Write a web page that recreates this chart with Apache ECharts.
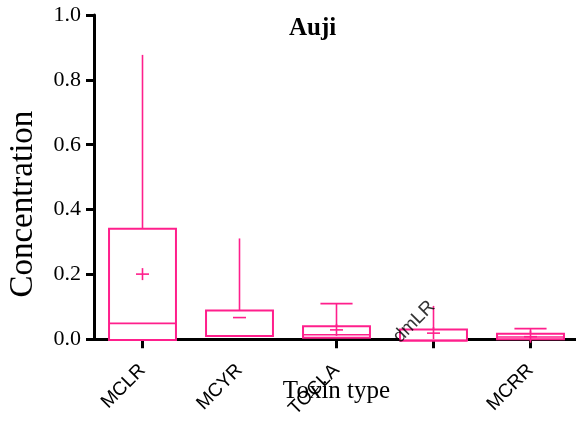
<!DOCTYPE html>
<html>
<head>
<meta charset="utf-8">
<script src="https://cdn.jsdelivr.net/npm/echarts@6/dist/echarts.min.js"></script>
<style>html,body{margin:0;padding:0;background:#fff}#c{width:576px;height:423px}</style>
</head>
<body>
<div id="c"></div>
<script>
const categories = ['MCLR', 'MCYR', 'TOCLA', 'dmLR', 'MCRR'];
const q1Values = [-0.002, 0.010, 0.005, -0.004, 0.000];
const medianValues = [0.049, 0.010, 0.014, -0.004, 0.007];
const q3Values = [0.341, 0.089, 0.040, 0.030, 0.017];
const upperValues = [0.877, 0.311, 0.110, 0.103, 0.033];
const meanValues = [0.201, 0.067, 0.029, 0.019, 0.008];
const yTicks = [0, 0.2, 0.4, 0.6, 0.8, 1.0];

const PINK = '#ff1f8c';
const cappedCats = ['TOCLA', 'MCRR'];
const dashOnlyMeans = ['MCYR'];
const shiftedLabel = 'dmLR';

const rows = categories.map((c, i) => [i, q1Values[i], medianValues[i], q3Values[i], upperValues[i], meanValues[i]]);

const chart = echarts.init(document.getElementById('c'), null, {renderer: 'canvas'});

function renderBox(params, api) {
  const i = api.value(0);
  const cx = api.coord([i, 0])[0];
  const band = api.size([1, 0])[0];
  const bw = band * 0.69;
  const yq1 = api.coord([i, api.value(1)])[1];
  const ymed = api.coord([i, api.value(2)])[1];
  const yq3 = api.coord([i, api.value(3)])[1];
  const ytop = api.coord([i, api.value(4)])[1];
  const ymean = api.coord([i, api.value(5)])[1];
  const children = [];
  children.push({type: 'line', shape: {x1: cx, y1: yq3, x2: cx, y2: ytop}, style: {stroke: PINK, lineWidth: 1.6}});
  if (cappedCats.indexOf(categories[i]) >= 0) {
    children.push({type: 'line', shape: {x1: cx - bw * 0.24, y1: ytop, x2: cx + bw * 0.24, y2: ytop}, style: {stroke: PINK, lineWidth: 1.6}});
  }
  children.push({type: 'rect', shape: {x: cx - bw / 2, y: yq3, width: bw, height: yq1 - yq3}, style: {fill: '#fff', stroke: PINK, lineWidth: 2}});
  children.push({type: 'line', shape: {x1: cx - bw / 2, y1: ymed, x2: cx + bw / 2, y2: ymed}, style: {stroke: PINK, lineWidth: 1.6}});
  children.push({type: 'line', shape: {x1: cx - 6.5, y1: ymean, x2: cx + 6.5, y2: ymean}, style: {stroke: PINK, lineWidth: 1.6}});
  if (dashOnlyMeans.indexOf(categories[i]) < 0) {
    children.push({type: 'line', shape: {x1: cx, y1: ymean - 6, x2: cx, y2: ymean + 6}, style: {stroke: PINK, lineWidth: 1.6}});
  }
  return {type: 'group', children: children};
}

const option = {
  animation: false,
  backgroundColor: '#fff',
  title: {
    text: 'Auji',
    left: 289,
    top: 16,
    padding: 0,
    textStyle: {fontFamily: 'Liberation Serif', fontWeight: 'bold', fontSize: 25, color: '#000'}
  },
  grid: {left: 94, top: 15, width: 485, height: 324.3, containLabel: false, outerBoundsMode: 'none'},
  xAxis: {
    type: 'category',
    data: categories,
    boundaryGap: true,
    name: 'Toxin type',
    nameLocation: 'middle',
    nameGap: 40,
    nameMoveOverlap: false,
    nameTextStyle: {fontFamily: 'Liberation Serif', fontSize: 25, color: '#000'},
    axisLine: {lineStyle: {color: '#000', width: 3}},
    axisTick: {show: true, alignWithLabel: true, length: 9, interval: (idx) => idx !== 1, lineStyle: {color: '#000', width: 3}},
    axisLabel: {
      rotate: 45, margin: 28, interval: 0,
      fontFamily: 'Liberation Sans', fontSize: 19, color: '#000',
      formatter: (v) => v === shiftedLabel ? '' : v
    },
    splitLine: {show: false}
  },
  yAxis: {
    type: 'value',
    min: 0, max: 1, interval: 0.2,
    name: 'Concentration',
    nameLocation: 'middle',
    nameRotate: 90,
    nameGap: 54,
    nameMoveOverlap: false,
    nameTextStyle: {fontFamily: 'Liberation Serif', fontSize: 33, color: '#000', padding: [0, 54, 0, 0]},
    axisLine: {show: true, lineStyle: {color: '#000', width: 3}},
    axisTick: {show: true, length: 8, lineStyle: {color: '#000', width: 3}},
    axisLabel: {
      margin: 13, fontFamily: 'Liberation Serif', fontSize: 22, color: '#000',
      formatter: (v) => yTicks.indexOf(v) >= 0 ? v.toFixed(1) : ''
    },
    splitLine: {show: false}
  },
  series: [
    {
      type: 'custom',
      renderItem: renderBox,
      encode: {x: 0, y: [1, 2, 3, 4, 5]},
      data: rows,
      z: 5
    },
    {
      type: 'scatter',
      symbolSize: 0,
      data: [[categories.indexOf(shiftedLabel), 0]],
      z: 6,
      label: {
        show: true,
        position: 'inside',
        formatter: () => shiftedLabel,
        rotate: 45,
        align: 'right',
        verticalAlign: 'middle',
        offset: [24, -26],
        fontFamily: 'Liberation Sans', fontSize: 19, color: '#000'
      }
    }
  ]
};
chart.setOption(option);
</script>
</body>
</html>
